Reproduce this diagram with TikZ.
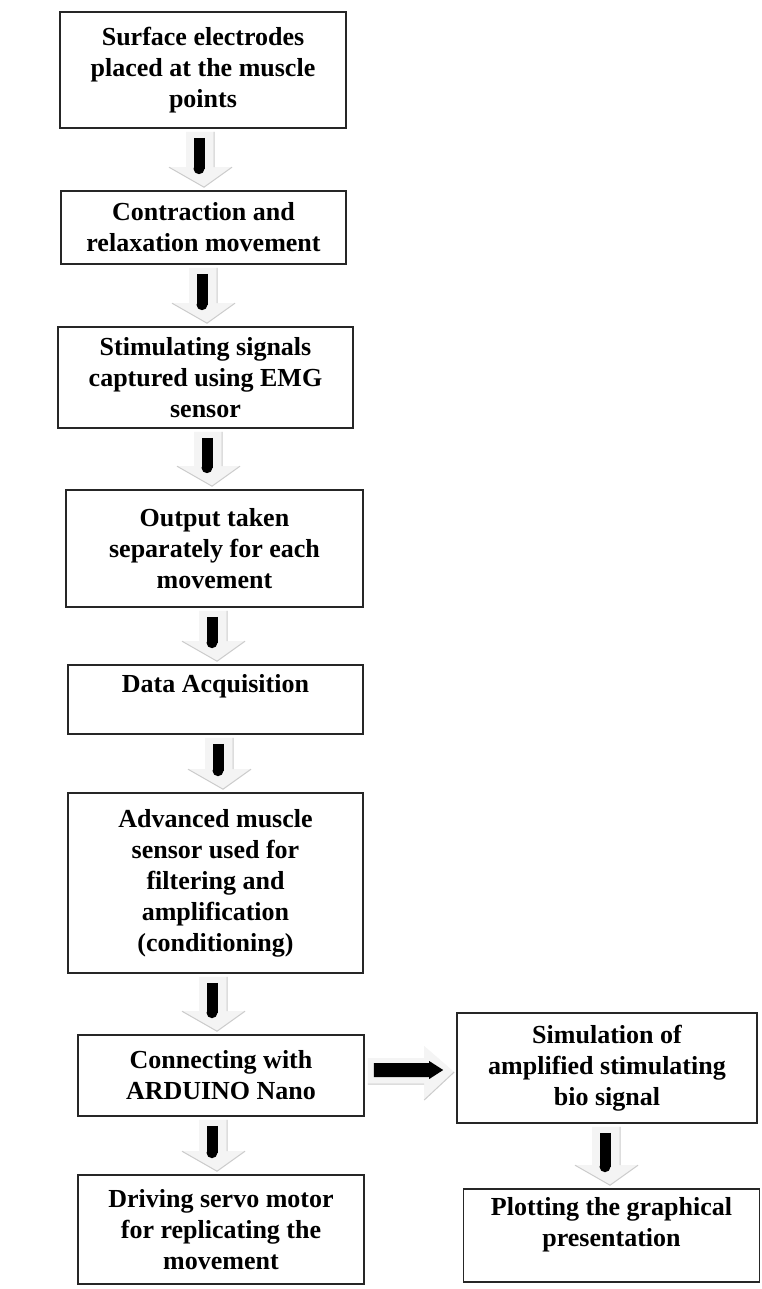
\documentclass[tikz,border=0pt]{standalone}
\usepackage{fontspec}
\setmainfont{Liberation Serif}
\usetikzlibrary{calc}
\tikzset{
  flowbox/.style={draw=black!85, line width=1.6pt, fill=white, align=center, inner sep=0pt,
    font=\bfseries\fontsize{26}{31}\selectfont},
  boxtext/.style={align=center, inner sep=0pt, font=\bfseries\fontsize{26}{31}\selectfont},
  lightfill/.style={fill=gray!9},
  lightedge/.style={draw=gray!40, line width=1pt},
  blackbar/.style={draw=black, line width=11pt},
}
% vertical block arrow from node #1 down to node #2, bar centred at x=#3
\newcommand\vflow[3]{%
  \fill[lightfill] let \p1=(#1.south), \p2=(#2.north) in
    (#3pt-13pt,\y1-3pt) -- (#3pt+15pt,\y1-3pt) -- (#3pt+15pt,\y2+23pt) -- (#3pt+33pt,\y2+23pt)
    -- (#3pt+5pt,\y2+3pt) -- (#3pt-30pt,\y2+23pt) -- (#3pt-13pt,\y2+23pt) -- cycle;
  \draw[lightedge] let \p1=(#1.south), \p2=(#2.north) in
    (#3pt+15pt,\y1-3pt) -- (#3pt+15pt,\y2+23pt) (#3pt+33pt,\y2+23pt) -- (#3pt+5pt,\y2+3pt) -- (#3pt-30pt,\y2+23pt);
  \draw[blackbar] let \p1=(#1.south), \p2=(#2.north) in
    (#3pt,\y1-9pt) -- (#3pt,\y2+21.5pt);
  \fill[black] let \p2=(#2.north) in (#3pt,\y2+21.5pt) circle[radius=5.5pt];
}
% horizontal block arrow from node #1 right to node #2, bar centred at y=#3 (downwards)
\newcommand\hflow[3]{%
  \fill[lightfill] let \p1=(#1.east), \p2=(#2.west) in
    (\x1+3pt,-#3pt+12pt) -- (\x2-32pt,-#3pt+12pt) -- (\x2-32pt,-#3pt+24pt) -- (\x2-2pt,-#3pt-2pt)
    -- (\x2-32pt,-#3pt-30pt) -- (\x2-32pt,-#3pt-14pt) -- (\x1+3pt,-#3pt-14pt) -- cycle;
  \draw[lightedge] let \p1=(#1.east), \p2=(#2.west) in
    (\x1+3pt,-#3pt-14pt) -- (\x2-32pt,-#3pt-14pt) (\x2-32pt,-#3pt-30pt) -- (\x2-2pt,-#3pt-2pt);
  \fill[black] let \p1=(#1.east), \p2=(#2.west) in
    (\x1+9pt,-#3pt+7pt) -- (\x2-27pt,-#3pt+7pt) -- (\x2-27pt,-#3pt+9pt) -- (\x2-13pt,-#3pt)
    -- (\x2-27pt,-#3pt-9pt) -- (\x2-27pt,-#3pt-7pt) -- (\x1+9pt,-#3pt-7pt) -- cycle;
}
\begin{document}
\begin{tikzpicture}[x=1pt, y=-1pt]
\useasboundingbox (0,0) rectangle (761,1289);
\fill[white] (0,0) rectangle (761,1289);

\node[flowbox, minimum width=286pt, minimum height=116pt] (n1) at (203,70)
  {Surface electrodes\\placed at the muscle\\points};
\node[flowbox, minimum width=285pt, minimum height=73pt] (n2) at (203.5,227.5)
  {Contraction and\\relaxation movement};
\node[flowbox, minimum width=295pt, minimum height=101pt] (n3) at (205.5,377.5)
  {Stimulating signals\\captured using EMG\\sensor};
\node[flowbox, minimum width=297pt, minimum height=117pt] (n4) at (214.5,548.5)
  {Output taken\\separately for each\\movement};
\node[flowbox, minimum width=295pt, minimum height=69pt] (n5) at (215.5,699.5) {};
\node[boxtext, anchor=north] (t5) at ($(n5.north)+(0,10)$) {Data Acquisition};
\node[flowbox, minimum width=295pt, minimum height=180pt] (n6) at (215.5,883)
  {Advanced muscle\\sensor used for\\filtering and\\amplification\\(conditioning)};
\node[flowbox, minimum width=286pt, minimum height=81pt] (n7) at (221,1075.5)
  {Connecting with\\ARDUINO Nano};
\node[flowbox, minimum width=286pt, minimum height=109pt] (n8) at (221,1229.5)
  {Driving servo motor\\for replicating the\\movement};
\node[flowbox, minimum width=300pt, minimum height=110pt] (n9) at (607,1068)
  {Simulation of\\amplified stimulating\\bio signal};
\node[flowbox, minimum width=296pt, minimum height=93pt] (n10) at (611.5,1235.5) {};
\node[boxtext, anchor=north] (t10) at ($(n10.north)+(0,9)$) {Plotting the graphical\\presentation};

\vflow{n1}{n2}{199}
\vflow{n2}{n3}{202}
\vflow{n3}{n4}{207}
\vflow{n4}{n5}{212}
\vflow{n5}{n6}{218}
\vflow{n6}{n7}{212}
\vflow{n7}{n8}{212}
\vflow{n9}{n10}{605}
\hflow{n7}{n9}{1070}
\end{tikzpicture}
\end{document}
